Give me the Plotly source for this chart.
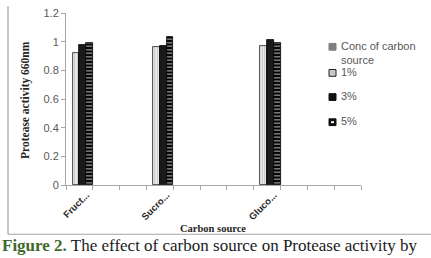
import plotly.graph_objects as go

# ---- data ----
category_labels = ["Fruct...", "", "", "Sucro...", "", "", "", "Gluco...", "", "", ""]
series_names = ["Conc of carbon<br>source", "1%", "3%", "5%"]
conc_of_source = [0] * 11
pct1 = [0.92, None, None, 0.965, None, None, None, 0.973, None, None, None]
pct3 = [0.98, None, None, 0.972, None, None, None, 1.015, None, None, None]
pct5 = [0.99, None, None, 1.033, None, None, None, 0.993, None, None, None]
y_title = "Protease activity 660nm"
x_title = "Carbon source"

cat_keys = [f"c{i}" for i in range(len(category_labels))]

W, H = 431, 258
L, R, T, B = 66, 70, 7, 73
PW, PH = W - L - R, H - T - B

def px_x(p):
    return (p - L) / PW

def px_y(p):
    return (H - B - p) / PH

fig = go.Figure()
fig.add_bar(x=cat_keys, y=conc_of_source, name=series_names[0],
            marker=dict(color="#808080", line=dict(width=0)))
fig.add_bar(x=cat_keys, y=pct1, name=series_names[1],
            marker=dict(color="white", line=dict(color="#222222", width=0.8),
                        pattern=dict(shape="|", fgcolor="#777777", bgcolor="white", size=2.5, solidity=0.5)))
fig.add_bar(x=cat_keys, y=pct3, name=series_names[2],
            marker=dict(color="#1a1a1a", line=dict(color="#000000", width=0.8)))
fig.add_bar(x=cat_keys, y=pct5, name=series_names[3],
            marker=dict(color="black", line=dict(color="#000000", width=0.8),
                        pattern=dict(shape="-", fgcolor="white", bgcolor="black", size=3.5, solidity=0.45)))

# ---- hand-drawn legend (small square keys, Excel style) ----
legend_rows = [42, 69, 94, 120]          # pixel centres of the first text line
key_x0, key_x1, text_x = 329, 336, 339
shapes = []
annotations = []
key_fill = ["#7f7f7f", "#c8c8c8", "#111111", "#111111"]
key_line = ["#7f7f7f", "#222222", "#111111", "#111111"]
for nm, yc, fc, lc in zip(series_names, legend_rows, key_fill, key_line):
    shapes.append(dict(type="rect", xref="paper", yref="paper",
                       x0=px_x(key_x0), x1=px_x(key_x1), y0=px_y(yc - 3.5), y1=px_y(yc + 3.5),
                       fillcolor=fc, line=dict(color=lc, width=1)))
    annotations.append(dict(text=nm, xref="paper", yref="paper", x=px_x(text_x), y=px_y(yc - 9),
                            xanchor="left", yanchor="top", align="left", showarrow=False,
                            font=dict(family="Liberation Sans", size=11, color="#595959")))
# white inner mark of the 5% key
shapes.append(dict(type="rect", xref="paper", yref="paper",
                   x0=px_x(331), x1=px_x(334), y0=px_y(legend_rows[3] - 1), y1=px_y(legend_rows[3] + 1),
                   fillcolor="white", line=dict(width=0)))

annotations += [
    dict(text=y_title, xref="paper", yref="paper", x=px_x(26), y=px_y(97),
         textangle=-90, showarrow=False, xanchor="center", yanchor="middle",
         font=dict(family="Liberation Serif", size=11.5, color="#262626", weight="bold")),
    dict(text=x_title, xref="paper", yref="paper", x=px_x(213), y=px_y(230),
         showarrow=False, xanchor="center", yanchor="middle",
         font=dict(family="Liberation Serif", size=10.5, color="#262626", weight="bold")),
    dict(text="<span style='color:#3f6a2a'><b>Figure 2.</b></span> The effect of carbon source on Protease activity by",
         xref="paper", yref="paper", x=px_x(0), y=px_y(248),
         showarrow=False, xanchor="left", yanchor="middle",
         font=dict(family="Liberation Serif", size=17, color="#1a1a1a")),
]
shapes += [
    dict(type="line", xref="paper", yref="paper", x0=px_x(8), x1=px_x(8), y0=px_y(0), y1=px_y(236),
         line=dict(color="#8c8c8c", width=1)),
    dict(type="line", xref="paper", yref="paper", x0=px_x(8), x1=px_x(431), y0=px_y(236), y1=px_y(236),
         line=dict(color="#a6a6a6", width=1)),
]

fig.update_layout(
    width=W, height=H,
    margin=dict(l=L, r=R, t=T, b=B),
    paper_bgcolor="white", plot_bgcolor="white",
    barmode="group", bargap=0, bargroupgap=0,
    showlegend=False,
    font=dict(family="Liberation Sans", size=11, color="#595959"),
    xaxis=dict(type="category", categoryorder="array", categoryarray=cat_keys,
               tickmode="array", tickvals=cat_keys, ticktext=category_labels,
               tickson="boundaries", ticks="outside", ticklen=4, tickcolor="#a6a6a6",
               showline=True, linecolor="#a6a6a6", linewidth=1, showgrid=False,
               tickangle=-45, ticklabelshift=7,
               tickfont=dict(family="Liberation Sans", size=9.5, color="#262626", weight="bold")),
    yaxis=dict(range=[0, 1.2], dtick=0.2, showgrid=False, zeroline=False,
               showline=True, linecolor="#a6a6a6", linewidth=1,
               ticks="outside", ticklen=4, tickcolor="#a6a6a6",
               tickfont=dict(family="Liberation Sans", size=11, color="#595959")),
    annotations=annotations,
    shapes=shapes,
)

fig.write_html("out.html")
